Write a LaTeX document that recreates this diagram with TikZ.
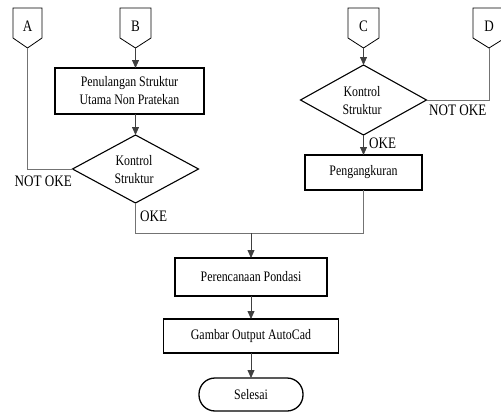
\documentclass[tikz,border=0pt]{standalone}
\usepackage{fontspec}
\setmainfont{Liberation Serif}[FakeStretch=0.82]
\usetikzlibrary{arrows.meta,shapes.geometric}
\begin{document}
\begin{tikzpicture}[x=1pt,y=-1pt,
  txt/.style={font=\fontsize{14.5}{18}\selectfont, align=center, inner sep=0pt},
  lab/.style={font=\fontsize{16}{18}\selectfont, inner sep=0pt},
  box/.style={draw, line width=1.3pt, inner sep=0pt, outer sep=0pt, align=center, font=\fontsize{14.5}{18}\selectfont},
  dia/.style={draw, diamond, line width=1.1pt, inner sep=0pt, outer sep=0pt},
  opc/.style={draw, line width=0.8pt},
  gline/.style={draw=black!55, line width=0.8pt},
  arr/.style={draw=black!75, line width=0.8pt, -{Triangle[length=8pt,width=7pt]}},
]
\useasboundingbox (0,0) rectangle (501,415);
% off-page connectors
\draw[opc] (13,8) -- (42,8) -- (42,38) -- (27.5,48) -- (13,38) -- cycle;
\node[lab] (A) at (27.5,26) {A};
\coordinate (Ab) at (27.5,48);
\draw[opc] (120,8) -- (151,8) -- (151,38) -- (135.5,48) -- (120,38) -- cycle;
\node[lab] (B) at (135.5,26) {B};
\coordinate (Bb) at (135.5,48);
\draw[opc] (348,8) -- (379,8) -- (379,38) -- (363.5,48) -- (348,38) -- cycle;
\node[lab] (C) at (363.5,26) {C};
\coordinate (Cb) at (363.5,48);
\draw[opc] (473,8) -- (505,8) -- (505,38) -- (489,48) -- (473,38) -- cycle;
\node[lab] (D) at (489,26) {D};
\coordinate (Db) at (489,48);
% left column
\node[box, minimum width=149pt, minimum height=46pt] (p1) at (129.5,91) {Penulangan Struktur\\Utama Non Pratekan};
\node[dia, minimum width=126pt, minimum height=68pt] (d1) at (135.5,169) {};
\node[txt] (d1t) at (134,170) {Kontrol\\Struktur};
% right column
\node[dia, minimum width=126pt, minimum height=70pt] (d2) at (363.5,100) {};
\node[txt] (d2t) at (362,101) {Kontrol\\Struktur};
\node[box, minimum width=117pt, minimum height=35pt] (pg) at (363.5,172.5) {Pengangkuran};
% bottom
\coordinate (j) at (251,233);
\node[box, minimum width=152pt, minimum height=38pt] (pp) at (251,277) {Perencanaan Pondasi};
\node[box, minimum width=175pt, minimum height=34pt] (ga) at (251,336) {Gambar Output AutoCad};
\node[box, rounded corners=16pt, minimum width=104pt, minimum height=33pt] (sel) at (251,394.5) {Selesai};
% connectors
\draw[arr] (Bb) -- (Bb |- p1.north);
\draw[arr] (d1.north |- p1.south) -- (d1.north);
\draw[gline] (Ab) |- (d1.west);
\node[lab, anchor=north east] (n1) at (72,176) {NOT OKE};
\draw[gline] (d1.south) -- (d1.south |- j) -- (j -| pg.south) -- (pg.south);
\node[lab, anchor=west] (o1) at (140,216) {OKE};
\draw[arr] (Cb) -- (d2.north);
\draw[gline] (Db) |- (d2.east);
\node[lab, anchor=north west] (n2) at (429,105) {NOT OKE};
\draw[arr] (d2.south) -- (pg.north);
\node[lab, anchor=west] (o2) at (369,143) {OKE};
\draw[arr] (j) -- (pp.north);
\draw[arr] (pp.south) -- (ga.north);
\draw[arr] (ga.south) -- (sel.north);
\end{tikzpicture}
\end{document}
